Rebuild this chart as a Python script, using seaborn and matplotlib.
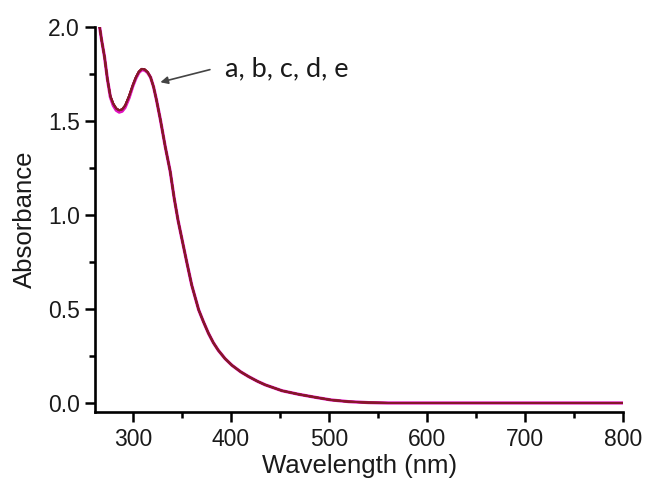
import pandas as pd
import seaborn as sns
import matplotlib
matplotlib.use('Agg')
import matplotlib.pyplot as plt
from matplotlib.ticker import MultipleLocator, FormatStrFormatter

sns.set_theme(style='ticks')
plt.rcParams['font.family'] = ['Liberation Sans', 'DejaVu Sans']

# UV-vis spectra; samples a-e lie on top of each other
wavelength = [266, 268, 271, 274, 277, 280, 283, 286, 289, 292, 296, 300, 303, 306,
              309, 312, 315, 318, 321, 324, 328, 333, 338, 342, 346, 350, 355, 360,
              367, 372, 377, 382, 387, 394, 401, 410, 418, 427, 435, 452, 469, 486,
              502, 520, 540, 560, 600, 700, 800]
abs_a = [2.00, 1.93, 1.84, 1.72, 1.625, 1.58, 1.555, 1.545, 1.55, 1.57, 1.62, 1.685, 1.725, 1.755,
         1.77, 1.768, 1.755, 1.73, 1.68, 1.61, 1.505, 1.36, 1.23, 1.09, 0.97, 0.87, 0.745, 0.625,
         0.495, 0.43, 0.37, 0.32, 0.28, 0.235, 0.20, 0.165, 0.14, 0.115, 0.096, 0.065, 0.046, 0.030,
         0.016, 0.007, 0.002, 0.0, 0.0, 0.0, 0.0]
abs_b = [2.00, 1.93, 1.84, 1.72, 1.63, 1.59, 1.565, 1.555, 1.56, 1.58, 1.63, 1.69, 1.73, 1.76,
         1.775, 1.772, 1.758, 1.73, 1.68, 1.61, 1.505, 1.36, 1.23, 1.09, 0.97, 0.87, 0.745, 0.625,
         0.495, 0.43, 0.37, 0.32, 0.28, 0.235, 0.20, 0.165, 0.14, 0.115, 0.096, 0.065, 0.046, 0.030,
         0.016, 0.007, 0.002, 0.0, 0.0, 0.0, 0.0]
abs_c = abs_b
abs_d = abs_b
abs_e = abs_b
samples = ['a', 'b', 'c', 'd', 'e']
colors = ['#e010c0', '#a01c34', '#951a30', '#8c1a2e', '#85182a']

df = pd.concat([
    pd.DataFrame({'Wavelength': wavelength, 'Absorbance': vals, 'sample': s})
    for s, vals in zip(samples, [abs_a, abs_b, abs_c, abs_d, abs_e])
])

fig = plt.figure(figsize=(6.46, 4.82), dpi=100)
ax = fig.add_axes([0.147, 0.146, 0.818, 0.799])
sns.lineplot(data=df, x='Wavelength', y='Absorbance', hue='sample', palette=colors,
             sort=False, legend=False, linewidth=1.4, ax=ax)
ax.lines[0].set_linewidth(2.3)

ax.set_xlim(261.3, 800)
ax.set_ylim(-0.046, 2.0)
ax.xaxis.set_major_locator(MultipleLocator(100))
ax.xaxis.set_minor_locator(MultipleLocator(50))
ax.yaxis.set_major_locator(MultipleLocator(0.5))
ax.yaxis.set_minor_locator(MultipleLocator(0.25))
ax.yaxis.set_major_formatter(FormatStrFormatter('%.1f'))
ax.tick_params(which='major', length=7.2, width=1.8, labelsize=16.5, colors='black')
ax.tick_params(axis='x', which='major', pad=4.5, labelcolor='#1a1a1a')
ax.tick_params(axis='y', which='major', pad=3.6, labelcolor='#1a1a1a')
ax.tick_params(which='minor', length=4.3, width=1.8, colors='black')
for side in ['left', 'bottom']:
    ax.spines[side].set_linewidth(1.9)
    ax.spines[side].set_color('black')
sns.despine(ax=ax)

ax.set_xlabel('Wavelength (nm)', fontsize=18.5, labelpad=2, color='#1a1a1a')
ax.set_ylabel('Absorbance', fontsize=18.5, labelpad=8, color='#1a1a1a')

ax.annotate('', xy=(328, 1.704), xytext=(378.5, 1.771),
            arrowprops=dict(arrowstyle='-|>', color='#444444', lw=1.2, mutation_scale=11,
                            shrinkA=0, shrinkB=0))
ax.text(393.5, 1.736, 'a, b, c, d, e', fontsize=19.5, va='baseline', ha='left',
        color='#1a1a1a', family=['Lato', 'DejaVu Sans'])

fig.savefig('out.png', dpi=100)
